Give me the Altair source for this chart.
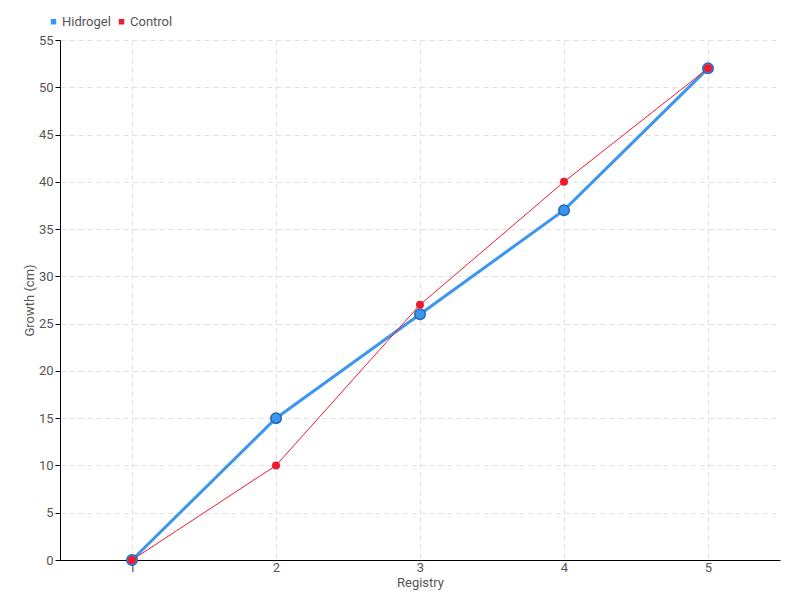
import altair as alt
import pandas as pd

registry = [1, 2, 3, 4, 5]
hidrogel = [0, 15, 26, 37, 52]
control = [0, 10, 27, 40, 52]
series_names = ["Hidrogel", "Control"]
series_colors = ["#3d96ee", "#ee1b2e"]
y_ticks = list(range(0, 60, 5))

df = pd.DataFrame({
    "Registry": registry * 2,
    "Growth": hidrogel + control,
    "Series": ["Hidrogel"] * 5 + ["Control"] * 5,
})

FONT = "Roboto, sans-serif"

xenc = alt.X("Registry:Q", title="Registry",
             scale=alt.Scale(domain=[0.5, 5.5], nice=False, zero=False),
             axis=alt.Axis(values=registry, format="d", grid=True, gridDash=[5, 4],
                           gridColor="#e0e0e0", domain=True, domainColor="black",
                           domainWidth=1, ticks=False, tickSize=0,
                           labelColor="#555", labelFontSize=13,
                           titleColor="#555", titleFontSize=13, titleFontWeight="normal",
                           titlePadding=2, labelPadding=1))
yenc = alt.Y("Growth:Q", title="Growth (cm)",
             scale=alt.Scale(domain=[0, 55], nice=False),
             axis=alt.Axis(values=y_ticks, grid=True, gridDash=[5, 4], gridColor="#e0e0e0",
                           domain=True, domainColor="black", domainWidth=1,
                           tickColor="black", tickSize=5,
                           labelColor="#555", labelFontSize=13, titleColor="#555",
                           titleFontSize=13, titleFontWeight="normal", titlePadding=2))
color = alt.Color("Series:N", scale=alt.Scale(domain=series_names, range=series_colors),
                  legend=alt.Legend(title=None, orient="none", direction="horizontal",
                                    legendX=-13, legendY=-25, symbolType="square",
                                    symbolSize=30, symbolStrokeWidth=0, labelFontSize=13,
                                    labelColor="#555", columnPadding=4, labelOffset=2))

base = alt.Chart(df).encode(x=xenc, y=yenc, color=color)

hline = base.transform_filter(alt.datum.Series == "Hidrogel").mark_line(strokeWidth=3)
cline = base.transform_filter(alt.datum.Series == "Control").mark_line(strokeWidth=1)
hpts = base.transform_filter(alt.datum.Series == "Hidrogel").mark_point(
    filled=True, size=110, opacity=1, stroke="#2468b8", strokeWidth=1.5)
cpts = base.transform_filter(alt.datum.Series == "Control").mark_point(
    filled=True, size=64, opacity=1)

chart = alt.layer(hline, cline, hpts, cpts).properties(
    width=720, height=520,
    autosize=alt.AutoSizeParams(type="none"),
    padding={"left": 52, "top": 32, "right": 4, "bottom": 30},
).configure(font=FONT).configure_view(stroke=None)

chart.save("out.html", embed_options={"renderer": "svg", "actions": False})
